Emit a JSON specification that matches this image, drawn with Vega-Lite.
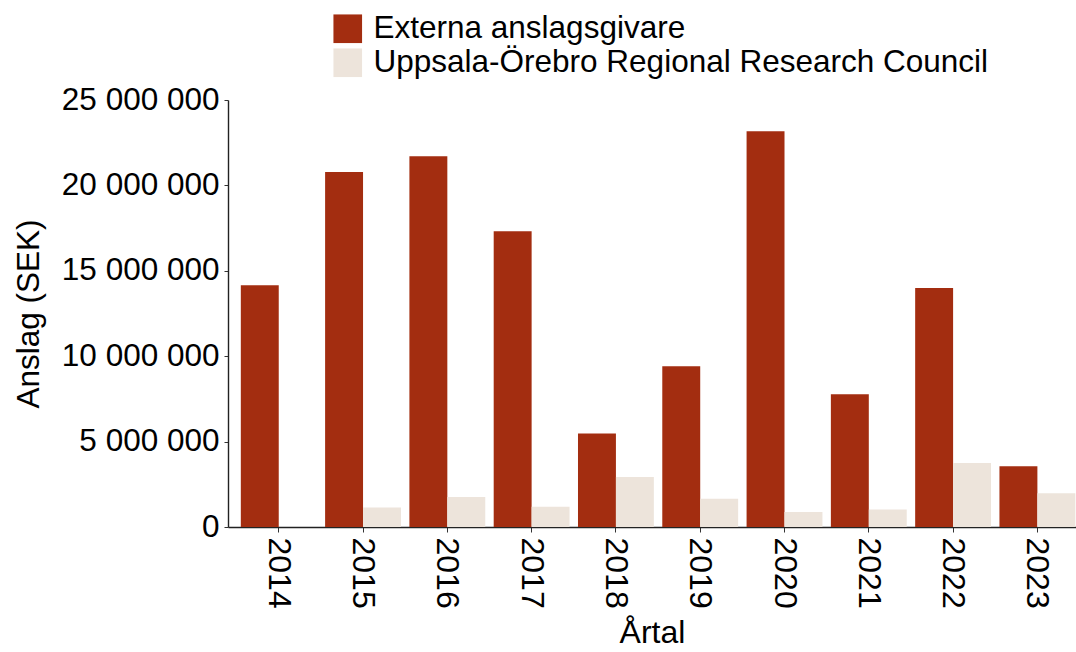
{
  "$schema": "https://vega.github.io/schema/vega-lite/v6.json",
  "autosize": {"type": "none"},
  "padding": {"left": 228, "top": 100, "right": 0, "bottom": 125},
  "width": 848,
  "height": 427,
  "background": "white",
  "config": {
    "font": "Liberation Sans",
    "view": {"stroke": null},
    "axis": {"grid": false, "domainColor": "#222222", "tickColor": "#333333", "labelColor": "#000000", "titleColor": "#000000", "labelFont": "Liberation Sans", "titleFont": "Liberation Sans", "titleFontWeight": "normal", "domainWidth": 1.4}
  },
  "data": {
    "values": [
      {"year": "2014", "source": "Externa anslagsgivare", "amount": 14150000},
      {"year": "2015", "source": "Externa anslagsgivare", "amount": 20780000},
      {"year": "2016", "source": "Externa anslagsgivare", "amount": 21700000},
      {"year": "2017", "source": "Externa anslagsgivare", "amount": 17310000},
      {"year": "2018", "source": "Externa anslagsgivare", "amount": 5480000},
      {"year": "2019", "source": "Externa anslagsgivare", "amount": 9410000},
      {"year": "2020", "source": "Externa anslagsgivare", "amount": 23170000},
      {"year": "2021", "source": "Externa anslagsgivare", "amount": 7770000},
      {"year": "2022", "source": "Externa anslagsgivare", "amount": 13990000},
      {"year": "2023", "source": "Externa anslagsgivare", "amount": 3560000},
      {"year": "2014", "source": "Uppsala-Örebro Regional Research Council", "amount": 0},
      {"year": "2015", "source": "Uppsala-Örebro Regional Research Council", "amount": 1140000},
      {"year": "2016", "source": "Uppsala-Örebro Regional Research Council", "amount": 1760000},
      {"year": "2017", "source": "Uppsala-Örebro Regional Research Council", "amount": 1190000},
      {"year": "2018", "source": "Uppsala-Örebro Regional Research Council", "amount": 2930000},
      {"year": "2019", "source": "Uppsala-Örebro Regional Research Council", "amount": 1660000},
      {"year": "2020", "source": "Uppsala-Örebro Regional Research Council", "amount": 880000},
      {"year": "2021", "source": "Uppsala-Örebro Regional Research Council", "amount": 1020000},
      {"year": "2022", "source": "Uppsala-Örebro Regional Research Council", "amount": 3750000},
      {"year": "2023", "source": "Uppsala-Örebro Regional Research Council", "amount": 1970000}
    ]
  },
  "mark": {"type": "bar"},
  "encoding": {
    "x": {
      "field": "year", "type": "nominal",
      "scale": {"paddingInner": 0.1, "paddingOuter": 0.08, "align": 0.95},
      "axis": {"title": "Årtal", "labelAngle": 90, "labelFontSize": 32, "titleFontSize": 32, "tickSize": 5, "labelPadding": 5, "titlePadding": 9}
    },
    "xOffset": {"field": "source", "type": "nominal", "scale": {"paddingInner": 0, "paddingOuter": 0}},
    "y": {
      "field": "amount", "type": "quantitative",
      "scale": {"domain": [0, 25000000], "nice": false},
      "axis": {"title": "Anslag (SEK)", "values": [0, 5000000, 10000000, 15000000, 20000000, 25000000], "labelExpr": "replace(format(datum.value, ',d'), /,/g, ' ')", "labelFontSize": 31.5, "titleFontSize": 31.5, "tickSize": 4, "labelPadding": 5, "titlePadding": 16}
    },
    "color": {
      "field": "source", "type": "nominal",
      "scale": {"domain": ["Externa anslagsgivare", "Uppsala-Örebro Regional Research Council"], "range": ["#A32D10", "#EDE4DB"]},
      "legend": {
        "title": null, "orient": "none", "legendX": 104, "legendY": -87, "direction": "vertical",
        "symbolType": "square", "symbolSize": 820, "symbolStrokeWidth": 0, "symbolOpacity": 1,
        "labelFontSize": 31.5, "labelColor": "#000000", "labelFont": "Liberation Sans", "labelOffset": 10, "rowPadding": 1, "labelLimit": 800
      }
    }
  }
}
